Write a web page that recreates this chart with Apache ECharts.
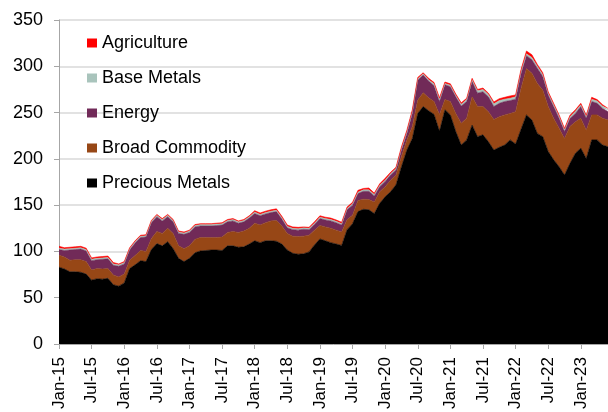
<!DOCTYPE html>
<html>
<head>
<meta charset="utf-8">
<script src="https://cdn.jsdelivr.net/npm/echarts@6/dist/echarts.min.js"></script>
<style>
  html, body { margin: 0; padding: 0; background: #ffffff; }
  #chart { width: 608px; height: 412px; }
</style>
</head>
<body>
<div id="chart"></div>
<script>
// Monthly categories, Jan-15 .. Jun-23
const months = [
  'Jan-15','Feb-15','Mar-15','Apr-15','May-15','Jun-15','Jul-15','Aug-15','Sep-15','Oct-15','Nov-15','Dec-15',
  'Jan-16','Feb-16','Mar-16','Apr-16','May-16','Jun-16','Jul-16','Aug-16','Sep-16','Oct-16','Nov-16','Dec-16',
  'Jan-17','Feb-17','Mar-17','Apr-17','May-17','Jun-17','Jul-17','Aug-17','Sep-17','Oct-17','Nov-17','Dec-17',
  'Jan-18','Feb-18','Mar-18','Apr-18','May-18','Jun-18','Jul-18','Aug-18','Sep-18','Oct-18','Nov-18','Dec-18',
  'Jan-19','Feb-19','Mar-19','Apr-19','May-19','Jun-19','Jul-19','Aug-19','Sep-19','Oct-19','Nov-19','Dec-19',
  'Jan-20','Feb-20','Mar-20','Apr-20','May-20','Jun-20','Jul-20','Aug-20','Sep-20','Oct-20','Nov-20','Dec-20',
  'Jan-21','Feb-21','Mar-21','Apr-21','May-21','Jun-21','Jul-21','Aug-21','Sep-21','Oct-21','Nov-21','Dec-21',
  'Jan-22','Feb-22','Mar-22','Apr-22','May-22','Jun-22','Jul-22','Aug-22','Sep-22','Oct-22','Nov-22','Dec-22',
  'Jan-23','Feb-23','Mar-23','Apr-23','May-23','Jun-23'
];

const preciousMetals = [
  83, 81, 78, 78, 77.5, 75.5, 69, 70.5, 70, 71, 64, 62.5,
  66, 81.5, 85.5, 90, 89, 102, 108.5, 106, 110.5, 103, 92.5, 89,
  92.5, 98.5, 100.5, 101, 101.5, 101.5, 101, 106, 106, 104.5, 105, 108,
  111.5, 109.5, 111.5, 111.5, 111, 108, 101.5, 98, 97, 97.5, 99.5, 107,
  113.5, 111.5, 109.5, 108, 106.5, 123.5, 130, 143, 145.5, 145, 141, 152,
  159, 164.5, 172, 191.5, 209.5, 222, 249, 256.5, 252, 248, 230, 253,
  247.5, 229.5, 215, 220.5, 236.5, 224, 226, 218.5, 209.5, 212.5, 215, 220.5,
  216, 232, 247.5, 242, 227.5, 224, 208, 199, 191.5, 182.5, 195, 206,
  211.5, 200.5, 220.5, 220.5, 215, 213
];

const broadCommodity = [
  13, 13, 12.5, 13, 13.5, 13.5, 11, 11, 11, 10.5, 10.5, 10,
  9.5, 9, 10, 11, 11, 12, 13, 13.5, 14.5, 16.5, 13.5, 14,
  13.5, 14.5, 14.5, 14, 13.5, 13.5, 14.5, 14.5, 15.5, 16, 17, 17,
  19, 19, 19.5, 21.5, 22.5, 19.5, 18, 18.5, 19, 19, 18, 16,
  14.5, 15, 15.5, 15, 14.5, 11, 9, 12, 11, 11, 12.5, 12.5,
  11, 12.5, 10.5, 11, 11, 13, 14.5, 15, 14, 14, 18, 11,
  14.5, 19.5, 23.5, 23.5, 30.5, 32.5, 30.5, 32.5, 33, 33, 32.5, 28.5,
  35, 44, 50, 50.5, 54, 50.5, 48.5, 45, 41.5, 39.5, 40, 34,
  32.5, 30.5, 27, 27, 29, 29
];

const energy = [
  6, 7, 11, 11, 11.5, 11.5, 10, 9.5, 10.5, 10.5, 10.5, 11.5,
  11, 11, 13.5, 14, 15.5, 17, 16, 13.5, 12.5, 12.5, 13.5, 15.5,
  14.5, 13.5, 12.5, 12.5, 12.5, 13, 13, 11.5, 11.5, 10, 10, 11,
  10.5, 10, 9.5, 9, 9.5, 7.5, 6, 7, 7, 7.5, 6, 6,
  7.5, 7.5, 8, 8, 7.5, 10.5, 11, 7.5, 8.5, 9, 6.5, 5.5,
  5.5, 5.5, 5.5, 7, 7, 14, 21.5, 19, 18, 17, 14, 16,
  16, 18, 18.5, 18, 16.5, 14.5, 16, 16, 14, 14.5, 14.5, 14,
  13.5, 16, 14, 14.5, 16.5, 14.5, 12.5, 12.5, 11, 7.5, 8.5, 9,
  12.5, 13, 14.5, 12.5, 10.5, 9
];

const baseMetals = [
  1.5, 1.5, 1.5, 1.5, 1.5, 1.5, 1.5, 1.5, 1.5, 1.5, 1.5, 1.5,
  1.5, 1.5, 1.5, 1.5, 1.5, 1.5, 1.5, 1.5, 1.5, 1.5, 1.5, 1.5,
  1.5, 1.5, 1.5, 1.5, 1.5, 1.5, 1.5, 1.5, 1.5, 1.5, 1.5, 1.5,
  1.5, 1.5, 1.5, 1.5, 1.5, 1.5, 1.5, 1.5, 1.5, 1.5, 1.5, 1.5,
  1.5, 1.5, 1.5, 1.5, 1.5, 1.5, 1.5, 1.5, 1.5, 1.5, 1.5, 1.5,
  1.5, 1.5, 1.5, 1.5, 1.5, 2, 1.5, 1.5, 1.5, 2, 2, 1.5,
  1.5, 1.5, 2, 2, 2, 2.5, 2.5, 2.5, 3, 3, 2.5, 2.5,
  2.5, 2.5, 2, 2.5, 2, 2, 2, 2, 2, 2, 2, 2.5,
  2, 2, 2.5, 2.5, 2.5, 2
];

const agriculture = [
  2, 1.5, 1.5, 1.5, 1.5, 1.5, 1.5, 1.5, 1.5, 1.5, 1.5, 1,
  1, 1, 1, 1, 1, 1, 1, 1, 1, 1, 1, 1,
  1, 1, 1, 1, 1, 1, 1, 1, 1, 1, 1, 1,
  1.5, 1.5, 1.5, 1.5, 1.5, 1.5, 1.5, 1.5, 1.5, 1, 1, 1.5,
  1.5, 1.5, 1.5, 1.5, 1.5, 1.5, 1.5, 2, 1.5, 2, 1.5, 1.5,
  2, 1.5, 1.5, 2, 2, 2, 1.5, 1, 1.5, 1.5, 2, 1.5,
  1.5, 1.5, 1.5, 1.5, 1.5, 1.5, 1.5, 1.5, 2, 2, 2, 2.5,
  2, 2, 3, 3, 2, 2, 1.5, 1.5, 1.5, 1.5, 1.5, 1.5,
  1.5, 1, 2, 1.5, 1.5, 1.5
];

const yTicks = { min: 0, max: 350, step: 50 };

const seriesDefs = [
  { name: 'Precious Metals', data: preciousMetals, color: '#000000' },
  { name: 'Broad Commodity', data: broadCommodity, color: '#974716' },
  { name: 'Energy', data: energy, color: '#712A58' },
  { name: 'Base Metals', data: baseMetals, color: '#A9C4BC' },
  { name: 'Agriculture', data: agriculture, color: '#FF0000' }
];

const font = '"Liberation Sans", Arial, sans-serif';
const axisGrey = '#A6A6A6';

const chart = echarts.init(document.getElementById('chart'), null, { renderer: 'canvas' });

chart.setOption({
  animation: false,
  backgroundColor: '#ffffff',
  grid: { left: 59, right: -1, top: 20, bottom: 68, containLabel: false },
  legend: {
    orient: 'vertical',
    left: 82,
    top: 29,
    icon: 'rect',
    itemWidth: 10,
    itemHeight: 9,
    itemGap: 17,
    data: ['Agriculture', 'Base Metals', 'Energy', 'Broad Commodity', 'Precious Metals'],
    textStyle: { fontFamily: font, fontSize: 18, lineHeight: 18, color: '#000000' }
  },
  xAxis: {
    type: 'category',
    data: months,
    boundaryGap: false,
    axisLine: { show: true, lineStyle: { color: axisGrey, width: 1 } },
    axisTick: { show: true, interval: 5, length: 5, lineStyle: { color: axisGrey } },
    axisLabel: {
      interval: 5,
      rotate: 90,
      margin: 13,
      fontFamily: font,
      fontSize: 17,
      color: '#000000'
    },
    splitLine: { show: false }
  },
  yAxis: {
    type: 'value',
    min: yTicks.min,
    max: yTicks.max,
    interval: yTicks.step,
    axisLine: { show: true, lineStyle: { color: axisGrey, width: 1 } },
    axisTick: { show: true, length: 5, lineStyle: { color: axisGrey } },
    axisLabel: { margin: 16, fontFamily: font, fontSize: 18, color: '#000000' },
    splitLine: { show: true, lineStyle: { color: '#D9D9D9', width: 1.5 } }
  },
  series: seriesDefs.map(s => ({
    name: s.name,
    type: 'line',
    stack: 'total',
    data: s.data,
    symbol: 'none',
    showSymbol: false,
    smooth: false,
    itemStyle: { color: s.color },
    lineStyle: { width: 0.6, color: s.color },
    areaStyle: { color: s.color, opacity: 1 }
  }))
});
</script>
</body>
</html>
